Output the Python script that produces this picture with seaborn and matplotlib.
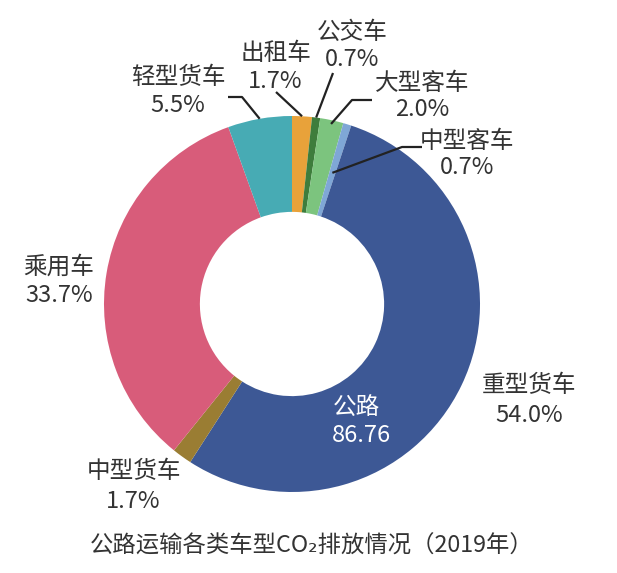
import numpy as np
import matplotlib
matplotlib.use("Agg")
import matplotlib.pyplot as plt
import seaborn as sns

# ---- data ----
categories = ['出租车', '公交车', '大型客车', '中型客车', '重型货车', '中型货车', '乘用车', '轻型货车']
shares = [1.7, 0.7, 2.0, 0.7, 54.0, 1.7, 33.7, 5.5]
colors = ['#E8A23A', '#3E7D3C', '#7CC47E', '#7FA7D6', '#3D5895', '#9A7D33', '#D85C7A', '#47ABB4']
center_title = '公路'
center_value = '86.76'
title = '公路运输各类车型CO₂排放情况（2019年）'

sns.set_theme(style='white')
plt.rcParams['font.family'] = ['Noto Sans CJK SC', 'DejaVu Sans']

W, H = 617, 573
fig = plt.figure(figsize=(W / 100, H / 100), dpi=100)
ax = fig.add_axes([0, 0, 1, 1])

cx, cy, R = 292, H - 304, 188

wedges, _ = ax.pie(shares, colors=colors, startangle=90, counterclock=False,
                   center=(cx, cy), radius=R,
                   wedgeprops=dict(width=R * 0.51, linewidth=0))
ax.set_xlim(0, W)
ax.set_ylim(0, H)
ax.set_aspect('equal')
ax.axis('off')

txt_color = '#333333'
fs = 17

def P(x, y):
    return (x, H - y)

def wedge_point(i, rfrac):
    w = wedges[i]
    ang = np.deg2rad((w.theta1 + w.theta2) / 2)
    return (cx + R * rfrac * np.cos(ang), cy + R * rfrac * np.sin(ang))

def label(i, pos_name, pos_pct, color=txt_color):
    ax.text(*P(*pos_name), categories[i], ha='center', va='center', fontsize=fs, color=color)
    ax.text(*P(*pos_pct), f'{shares[i]:.1f}%', ha='center', va='center', fontsize=fs, color=color)

def leader(i, rfrac, pts):
    start = wedge_point(i, rfrac)
    xs = [start[0]] + [p[0] for p in pts]
    ys = [start[1]] + [H - p[1] for p in pts]
    ax.plot(xs, ys, color='#222222', lw=1.6, solid_capstyle='butt')

# labels
label(0, (276, 54), (275, 81))
leader(0, 1.0, [(276, 92)])
label(1, (352, 32), (352, 60))
leader(1, 1.0, [(333, 73)])
label(2, (422, 84), (422, 109))
leader(2, 0.98, [(352, 100), (372, 100)])
label(3, (467, 141), (467, 168))
leader(3, 0.73, [(402, 147), (422, 147)])
label(4, (529, 386), (529, 415))
label(5, (134, 472), (133, 501))
label(6, (59, 267), (59, 295))
label(7, (178, 77), (178, 106))
leader(7, 1.0, [(242, 97), (228, 97)])

ax.text(*P(356, 407), center_title, ha='center', va='center', fontsize=fs, color='white')
ax.text(*P(361, 435), center_value, ha='center', va='center', fontsize=fs, color='white')

ax.text(*P(312, 546), title, ha='center', va='center', fontsize=16.8, color=txt_color)

fig.savefig('out.png', dpi=100)
